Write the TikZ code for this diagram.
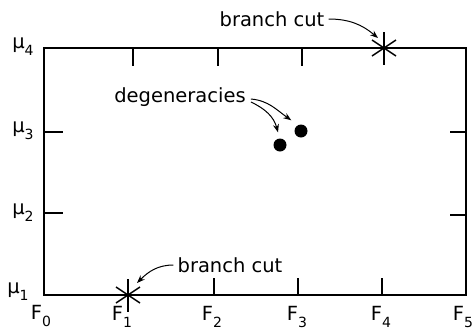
\documentclass[tikz,border=0pt]{standalone}
\usepackage{fontspec}
\setmainfont{DejaVu Sans}
\usetikzlibrary{arrows.meta}
\newcommand{\lblsub}[2]{#1\raisebox{-0.35em}{\fontsize{14}{14}\selectfont #2}}
\tikzset{
  lbl/.style={inner sep=0pt, font=\fontsize{19.5}{19.5}\selectfont},
  dot/.style={circle, fill=black, inner sep=0pt, minimum size=13pt},
  arr/.style={-{Stealth[length=8pt,width=6pt]}, line width=1pt},
  frame/.style={line width=1.4pt},
  starline/.style={line width=1.4pt}
}
\begin{document}
\begin{tikzpicture}[x=1pt,y=-1pt]
\useasboundingbox (0,0) rectangle (475,330);
% frame
\draw[frame] (44,48) rectangle (466,295);
% top ticks
\foreach \x in {133,218,302} \draw[frame] (\x,48) -- (\x,66);
% bottom ticks
\foreach \x in {214,298,382} \draw[frame] (\x,295) -- (\x,278);
% left ticks
\foreach \y in {132,213} \draw[frame] (44,\y) -- (63,\y);
% right ticks
\foreach \y in {132,215} \draw[frame] (466,\y) -- (450,\y);
% stars
\coordinate (s1) at (384,48);
\coordinate (s2) at (128,295);
\foreach \c in {s1,s2} {
  \draw[starline] ([yshift=16pt]\c) -- ([yshift=-17pt]\c);
  \draw[starline] ([xshift=-12pt,yshift=8pt]\c) -- ([xshift=12pt,yshift=-8pt]\c);
  \draw[starline] ([xshift=-12pt,yshift=-8pt]\c) -- ([xshift=12pt,yshift=8pt]\c);
}
% dots
\node[dot] (d1) at (280,145) {};
\node[dot] (d2) at (301,131) {};
% axis labels
\node[lbl] (m4) at (23,47) {\lblsub{μ}{4}};
\node[lbl] (m3) at (23,131) {\lblsub{μ}{3}};
\node[lbl] (m2) at (23,213) {\lblsub{μ}{2}};
\node[lbl] (m1) at (18,292) {\lblsub{μ}{1}};
\node[lbl] (f0) at (41,316) {\lblsub{F}{0}};
\node[lbl] (f1) at (122,317) {\lblsub{F}{1}};
\node[lbl] (f2) at (212,317) {\lblsub{F}{2}};
\node[lbl] (f3) at (297,317) {\lblsub{F}{3}};
\node[lbl] (f4) at (381,317) {\lblsub{F}{4}};
\node[lbl] (f5) at (463,317) {\lblsub{F}{5}};
% text labels
\node[lbl] (bc1) at (272,19) {branch cut};
\node[lbl] (bc2) at (230,265) {branch cut};
\node[lbl] (deg) at (180,97) {degeneracies};
% arrows
\coordinate (bc1end) at (378,38);
\coordinate (bc2end) at (137,283);
\draw[arr] ([xshift=4pt]bc1.east) to[out=0,in=140] (bc1end);
\draw[arr] ([xshift=-4pt]bc2.west) to[out=180,in=45] (bc2end);
\draw[arr] ([xshift=5pt,yshift=-2pt]deg.east) to[out=-5,in=145] ([shift={(-5pt,6pt)}]d2.north west);
\draw[arr] ([xshift=5pt,yshift=-5pt]deg.east) to[out=-25,in=105] ([shift={(-2pt,6pt)}]d1.north);
\end{tikzpicture}
\end{document}
